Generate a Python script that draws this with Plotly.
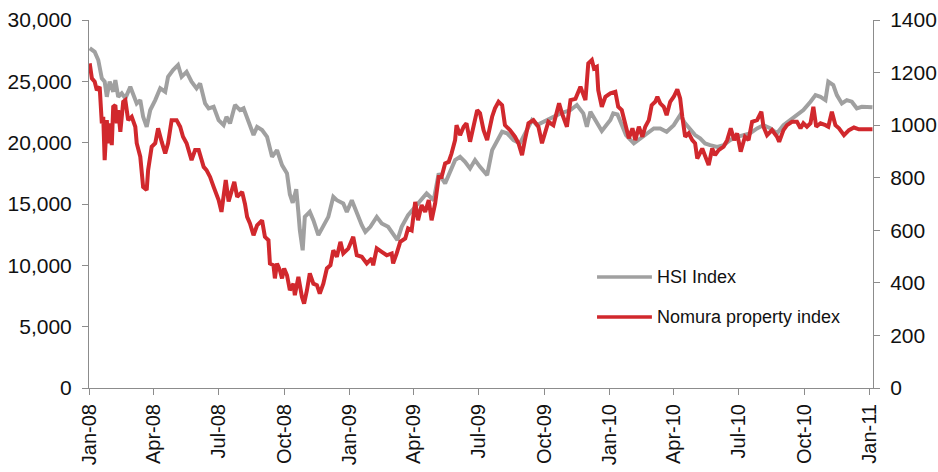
import plotly.graph_objects as go

# Hang Seng Index (left axis)
hsi_dates = [
    "2008-01-02", "2008-01-09", "2008-01-14", "2008-01-19", "2008-01-23", "2008-01-26",
    "2008-01-30", "2008-02-04", "2008-02-07", "2008-02-11", "2008-02-16", "2008-02-21",
    "2008-02-28", "2008-03-03", "2008-03-08", "2008-03-13", "2008-03-17", "2008-03-22",
    "2008-03-27", "2008-04-03", "2008-04-10", "2008-04-17", "2008-04-21", "2008-04-28",
    "2008-05-05", "2008-05-10", "2008-05-17", "2008-05-24", "2008-05-31", "2008-06-05",
    "2008-06-12", "2008-06-17", "2008-06-24", "2008-07-01", "2008-07-08", "2008-07-12",
    "2008-07-17", "2008-07-24", "2008-07-31", "2008-08-05", "2008-08-12", "2008-08-19",
    "2008-08-24", "2008-08-31", "2008-09-07", "2008-09-14", "2008-09-21", "2008-09-28",
    "2008-10-05", "2008-10-09", "2008-10-13", "2008-10-18", "2008-10-21", "2008-10-23",
    "2008-10-27", "2008-10-30", "2008-11-06", "2008-11-11", "2008-11-18", "2008-11-25",
    "2008-12-02", "2008-12-09", "2008-12-14", "2008-12-23", "2008-12-28", "2009-01-04",
    "2009-01-11", "2009-01-18", "2009-01-23", "2009-01-30", "2009-02-08", "2009-02-15",
    "2009-02-24", "2009-03-06", "2009-03-09", "2009-03-15", "2009-03-24", "2009-04-03",
    "2009-04-12", "2009-04-19", "2009-04-29", "2009-05-06", "2009-05-15", "2009-05-22",
    "2009-05-29", "2009-06-05", "2009-06-12", "2009-06-19", "2009-06-26", "2009-07-03",
    "2009-07-13", "2009-07-20", "2009-07-27", "2009-08-03", "2009-08-10", "2009-08-19",
    "2009-08-28", "2009-09-07", "2009-09-14", "2009-09-21", "2009-09-30", "2009-10-12",
    "2009-10-24", "2009-11-07", "2009-11-16", "2009-11-25", "2009-11-30", "2009-12-05",
    "2009-12-09", "2009-12-21", "2010-01-02", "2010-01-06", "2010-01-12", "2010-01-15",
    "2010-01-24", "2010-02-04", "2010-02-13", "2010-02-22", "2010-03-04", "2010-03-13",
    "2010-03-22", "2010-04-01", "2010-04-10", "2010-04-17", "2010-04-24", "2010-05-01",
    "2010-05-08", "2010-05-15", "2010-05-22", "2010-06-01", "2010-06-10", "2010-06-19",
    "2010-06-29", "2010-07-08", "2010-07-17", "2010-07-27", "2010-08-05", "2010-08-15",
    "2010-08-24", "2010-09-02", "2010-09-12", "2010-09-21", "2010-09-30", "2010-10-10",
    "2010-10-17", "2010-10-24", "2010-10-31", "2010-11-04", "2010-11-11", "2010-11-16",
    "2010-11-23", "2010-11-30", "2010-12-07", "2010-12-14", "2010-12-21", "2011-01-05",
]
hsi_values = [
    27700, 27400, 26740, 25240, 24970, 23740,
    24970, 24150, 25100, 23740, 24020, 23610,
    24560, 24020, 23200, 23470, 22110, 21290,
    22660, 23470, 24430, 24150, 25370, 25920,
    26330, 25370, 25780, 24970, 24430, 24830,
    23200, 22800, 22930, 21840, 21430, 22110,
    21570, 23070, 22660, 22800, 21700, 20620,
    21290, 21030, 20480, 18850, 19390, 18170,
    17490, 15800, 15100, 16200, 14300, 12870,
    11230, 13950, 14360, 13680, 12460, 13140,
    13950, 15580, 15310, 15040, 14360, 15310,
    14230, 13270, 12730, 13140, 13950, 13410,
    13140, 12320, 12050, 13140, 14090, 14770,
    15450, 15860, 15310, 17490, 16680, 17620,
    18580, 18850, 18440, 17900, 18580, 18030,
    17350, 19390, 20210, 20890, 20760, 20210,
    19940, 21030, 21840, 21430, 21700, 22110,
    22390, 22660, 23070, 22390, 21290, 22520,
    22110, 20950, 21840, 22390, 22300, 21840,
    20620, 19940, 20350, 20760, 21160, 21160,
    20890, 21430, 22250, 21570, 21030, 20620,
    20350, 19940, 19800, 19660, 19800, 20210,
    20480, 20620, 20760, 21160, 21430, 21160,
    20760, 21430, 21840, 22250, 22660, 23340,
    23880, 23740, 23470, 24970, 24700, 23880,
    23200, 23470, 23340, 22800, 22930, 22880,
]

# Nomura property index (right axis)
nomura_dates = [
    "2008-01-02", "2008-01-05", "2008-01-09", "2008-01-12", "2008-01-16", "2008-01-19",
    "2008-01-21", "2008-01-23", "2008-01-26", "2008-01-28", "2008-01-30", "2008-02-02",
    "2008-02-04", "2008-02-07", "2008-02-09", "2008-02-11", "2008-02-14", "2008-02-16",
    "2008-02-18", "2008-02-21", "2008-02-25", "2008-03-01", "2008-03-06", "2008-03-08",
    "2008-03-13", "2008-03-17", "2008-03-22", "2008-03-24", "2008-03-29", "2008-04-03",
    "2008-04-07", "2008-04-12", "2008-04-17", "2008-04-21", "2008-04-26", "2008-05-03",
    "2008-05-08", "2008-05-12", "2008-05-17", "2008-05-24", "2008-05-29", "2008-06-03",
    "2008-06-10", "2008-06-14", "2008-06-19", "2008-06-24", "2008-07-01", "2008-07-05",
    "2008-07-11", "2008-07-15", "2008-07-23", "2008-07-27", "2008-08-03", "2008-08-07",
    "2008-08-10", "2008-08-14", "2008-08-19", "2008-08-24", "2008-08-31", "2008-09-04",
    "2008-09-09", "2008-09-11", "2008-09-16", "2008-09-18", "2008-09-21", "2008-09-25",
    "2008-09-28", "2008-10-01", "2008-10-05", "2008-10-09", "2008-10-14", "2008-10-16",
    "2008-10-21", "2008-10-26", "2008-10-29", "2008-11-02", "2008-11-06", "2008-11-11",
    "2008-11-16", "2008-11-20", "2008-11-25", "2008-11-30", "2008-12-05", "2008-12-09",
    "2008-12-14", "2008-12-19", "2008-12-23", "2008-12-30", "2009-01-06", "2009-01-11",
    "2009-01-18", "2009-01-25", "2009-02-01", "2009-02-03", "2009-02-08", "2009-02-15",
    "2009-02-22", "2009-03-01", "2009-03-03", "2009-03-08", "2009-03-13", "2009-03-20",
    "2009-03-24", "2009-03-29", "2009-04-03", "2009-04-07", "2009-04-12", "2009-04-17",
    "2009-04-22", "2009-04-26", "2009-05-01", "2009-05-06", "2009-05-10", "2009-05-15",
    "2009-05-20", "2009-05-24", "2009-05-29", "2009-05-31", "2009-06-05", "2009-06-10",
    "2009-06-14", "2009-06-19", "2009-06-24", "2009-06-29", "2009-07-03", "2009-07-08",
    "2009-07-13", "2009-07-20", "2009-07-24", "2009-07-29", "2009-08-03", "2009-08-07",
    "2009-08-14", "2009-08-21", "2009-08-26", "2009-08-31", "2009-09-04", "2009-09-09",
    "2009-09-16", "2009-09-23", "2009-09-28", "2009-10-02", "2009-10-07", "2009-10-14",
    "2009-10-22", "2009-10-26", "2009-11-02", "2009-11-07", "2009-11-14", "2009-11-21",
    "2009-11-28", "2009-12-02", "2009-12-07", "2009-12-10", "2009-12-14", "2009-12-16",
    "2009-12-21", "2009-12-26", "2010-01-02", "2010-01-09", "2010-01-13", "2010-01-18",
    "2010-01-23", "2010-01-28", "2010-02-02", "2010-02-06", "2010-02-11", "2010-02-16",
    "2010-02-20", "2010-02-25", "2010-03-01", "2010-03-06", "2010-03-09", "2010-03-13",
    "2010-03-18", "2010-03-22", "2010-03-27", "2010-04-01", "2010-04-06", "2010-04-10",
    "2010-04-13", "2010-04-17", "2010-04-22", "2010-04-27", "2010-05-01", "2010-05-04",
    "2010-05-11", "2010-05-15", "2010-05-20", "2010-05-25", "2010-05-29", "2010-06-03",
    "2010-06-10", "2010-06-15", "2010-06-20", "2010-06-25", "2010-06-29", "2010-07-04",
    "2010-07-10", "2010-07-15", "2010-07-20", "2010-07-27", "2010-08-02", "2010-08-05",
    "2010-08-10", "2010-08-17", "2010-08-24", "2010-08-27", "2010-09-02", "2010-09-07",
    "2010-09-14", "2010-09-21", "2010-09-26", "2010-09-30", "2010-10-05", "2010-10-10",
    "2010-10-14", "2010-10-18", "2010-10-24", "2010-10-31", "2010-11-04", "2010-11-09",
    "2010-11-14", "2010-11-19", "2010-11-26", "2010-12-03", "2010-12-10", "2010-12-17",
    "2011-01-05",
]
nomura_values = [
    1235, 1178, 1165, 1133, 1146, 1007,
    1032, 867, 1019, 931, 1007, 924,
    1070, 1076, 1007, 1057, 975, 1057,
    1089, 1095, 1019, 1032, 994, 931,
    880, 765, 753, 829, 918, 931,
    988, 937, 892, 931, 1019, 1019,
    994, 956, 931, 867, 905, 905,
    841, 829, 803, 765, 715, 670,
    791, 710, 784, 727, 746, 700,
    651, 626, 581, 619, 638, 575,
    562, 474, 467, 417, 474, 448,
    417, 455, 429, 372, 397, 353,
    423, 346, 321, 372, 436, 397,
    391, 359, 397, 455, 467, 524,
    499, 556, 512, 530, 575, 505,
    499, 474, 493, 467, 531, 518,
    505, 512, 474, 512, 556, 569,
    607, 600, 708, 638, 696, 670,
    715, 638, 702, 803, 803, 854,
    860, 892, 943, 1000, 962, 994,
    1007, 937, 994, 1057, 1045, 981,
    943, 1032, 1064, 1089, 1076, 1000,
    981, 956, 931, 886, 943, 1007,
    1019, 994, 931, 969, 1013, 1000,
    1083, 1045, 994, 1095, 1100, 1146,
    1095, 1235, 1248, 1216, 1222, 1133,
    1070, 1108, 1121, 1127, 1070, 1057,
    1007, 950, 988, 943, 994, 956,
    994, 1019, 1076, 1089, 1108, 1083,
    1070, 1038, 1089, 1108, 1136, 1102,
    1032, 956, 969, 943, 931, 873,
    911, 886, 848, 911, 886, 905,
    918, 943, 988, 943, 969, 899,
    956, 943, 1013, 1019, 1051, 994,
    962, 981, 956, 937, 981, 1000,
    1013, 1013, 988, 1007, 994, 1007,
    1070, 994, 1007, 1000, 994, 1051,
    1000, 988, 962, 981, 991, 984,
    984,
]

series_names = ["HSI Index", "Nomura property index"]
grey = "#A0A0A0"
red = "#D1282D"
axis_grey = "#8C8C8C"
font_family = "Liberation Sans, Arial, sans-serif"

fig = go.Figure()
fig.add_trace(go.Scatter(
    x=hsi_dates, y=hsi_values, name=series_names[0], mode="lines",
    line=dict(color=grey, width=4), yaxis="y", showlegend=False,
))
fig.add_trace(go.Scatter(
    x=nomura_dates, y=nomura_values, name=series_names[1], mode="lines",
    line=dict(color=red, width=4), yaxis="y2", showlegend=False,
))

# Legend drawn as short line samples with labels
legend_rows = [(0.3016, grey, series_names[0]), (0.193, red, series_names[1])]
for ypos, col, label in legend_rows:
    fig.add_shape(type="line", xref="paper", yref="paper",
                  x0=0.648, x1=0.718, y0=ypos, y1=ypos,
                  line=dict(color=col, width=3.5))
    fig.add_annotation(xref="paper", yref="paper", x=0.722, y=ypos,
                       text=label, showarrow=False, xanchor="left", yanchor="middle",
                       font=dict(family=font_family, size=18, color="#111"))

tick_font = dict(family=font_family, size=21, color="#111")
axis_common = dict(
    showgrid=False, zeroline=False, showline=True, linecolor=axis_grey, linewidth=1,
    ticks="outside", ticklen=6, tickcolor=axis_grey, tickfont=tick_font,
    automargin=False,
)

fig.update_layout(
    width=938, height=472,
    margin=dict(l=89, r=65, t=20, b=84),
    paper_bgcolor="white", plot_bgcolor="white",
    xaxis=dict(
        type="date", range=["2008-01-01", "2011-01-05 18:00"],
        tick0="2008-01-01", dtick="M3", tickformat="%b-%y", tickangle=-90,
        tickfont=dict(family=font_family, size=20, color="#111"),
        ticklabelstandoff=1,
        **{k: v for k, v in axis_common.items() if k != "tickfont"},
    ),
    yaxis=dict(range=[0, 30000], dtick=5000, tickformat=",",
               ticklabelstandoff=6, **axis_common),
    yaxis2=dict(range=[0, 1400], dtick=200, overlaying="y", side="right",
                ticklabelstandoff=6, **axis_common),
)

fig.write_html("out.html")
